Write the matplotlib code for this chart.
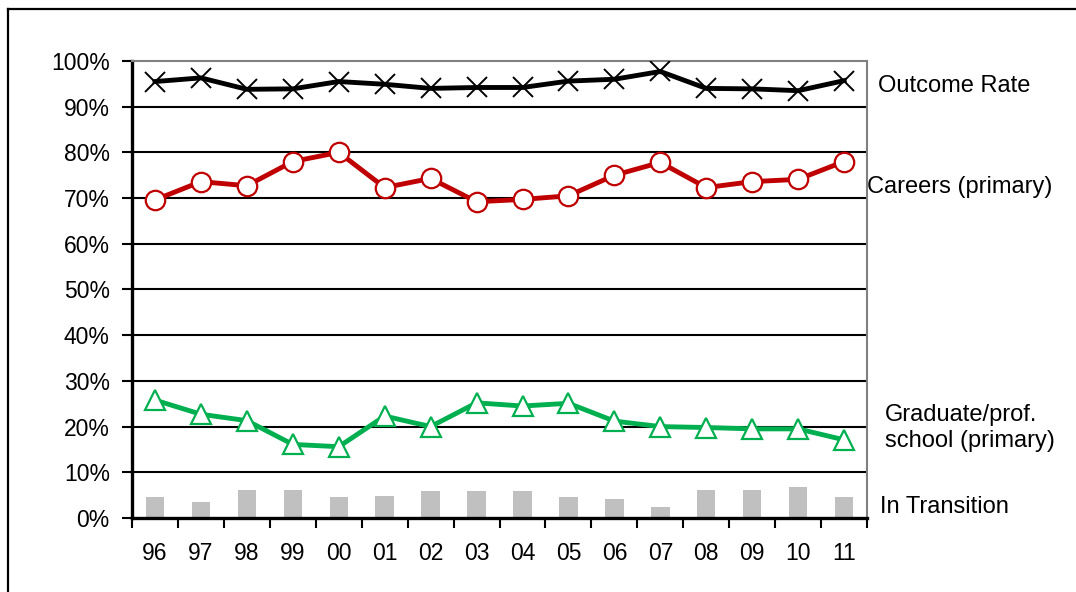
import numpy as np
import matplotlib.pyplot as plt
from matplotlib.lines import Line2D

plt.rcParams['font.family'] = ['Liberation Sans', 'DejaVu Sans']

years = ['96', '97', '98', '99', '00', '01', '02', '03',
         '04', '05', '06', '07', '08', '09', '10', '11']
outcome = [95.5, 96.3, 93.8, 93.9, 95.5, 94.9, 94.0, 94.2,
           94.2, 95.6, 96.0, 97.7, 94.0, 93.9, 93.5, 95.7]
careers = [69.6, 73.6, 72.7, 78.0, 80.0, 72.3, 74.3, 69.2,
           69.7, 70.5, 75.0, 77.8, 72.3, 73.6, 74.1, 78.0]
graduate = [25.8, 22.7, 21.3, 16.1, 15.6, 22.3, 20.0, 25.2,
            24.5, 25.1, 21.2, 20.0, 19.8, 19.5, 19.5, 17.1]
transition = [4.5, 3.6, 6.2, 6.2, 4.5, 4.9, 5.8, 5.8,
              5.8, 4.5, 4.1, 2.3, 6.2, 6.2, 6.7, 4.5]

x = np.arange(len(years))

fig = plt.figure(figsize=(10.76, 5.92), dpi=100)
ax = fig.add_axes([0.1227, 0.125, 0.6831, 0.772])

# outer frame (left and top edges)
fig.add_artist(Line2D([8/1076, 8/1076], [0, 1 - 9/592], transform=fig.transFigure,
                      color='black', lw=1.6))
fig.add_artist(Line2D([8/1076, 1], [1 - 9/592, 1 - 9/592], transform=fig.transFigure,
                      color='black', lw=1.6))

for v in range(10, 100, 10):
    ax.axhline(v, color='black', lw=1.5, zorder=1)

ax.bar(x, transition, width=0.4, color='#C0C0C0', zorder=2)
ax.plot(x, outcome, color='black', lw=3.5, marker='x', markersize=15,
        markeredgewidth=1.4, zorder=3)
ax.plot(x, careers, color='#C00000', lw=3.5, marker='o', markersize=14,
        markerfacecolor='white', markeredgecolor='#C00000', markeredgewidth=1.6, zorder=3)
ax.plot(x, graduate, color='#00B050', lw=3.5, marker='^', markersize=15,
        markerfacecolor='white', markeredgecolor='#00B050', markeredgewidth=1.6, zorder=3)

ax.set_xlim(-0.5, len(years) - 0.5)
ax.set_ylim(0, 100)
ax.set_yticks(range(0, 101, 10))
ax.set_yticklabels([f'{v}%' for v in range(0, 101, 10)], fontsize=16.5)
ax.set_xticks(x)
ax.set_xticklabels(years, fontsize=16.5)
ax.set_xticks(np.arange(-0.5, len(years), 1), minor=True)
ax.tick_params(axis='x', which='major', length=0, pad=17)
ax.tick_params(axis='x', which='minor', length=7, width=1.5, direction='out')
ax.tick_params(axis='y', length=7, width=1.5, direction='out', pad=9)

for side in ['left', 'bottom']:
    ax.spines[side].set_color('black')
    ax.spines[side].set_linewidth(2.4)
for side in ['top', 'right']:
    ax.spines[side].set_color('#808080')
    ax.spines[side].set_linewidth(1.5)

fs = 17
fig.text(878/1076, 1 - 86/592, 'Outcome Rate', fontsize=fs, va='center', ha='left')
fig.text(867/1076, 1 - 187/592, 'Careers (primary)', fontsize=fs, va='center', ha='left')
fig.text(885/1076, 1 - 428/592, 'Graduate/prof.\nschool (primary)', fontsize=fs,
         va='center', ha='left', linespacing=1.2)
fig.text(880/1076, 1 - 507/592, 'In Transition', fontsize=fs, va='center', ha='left')

fig.savefig('out.png', dpi=100)
